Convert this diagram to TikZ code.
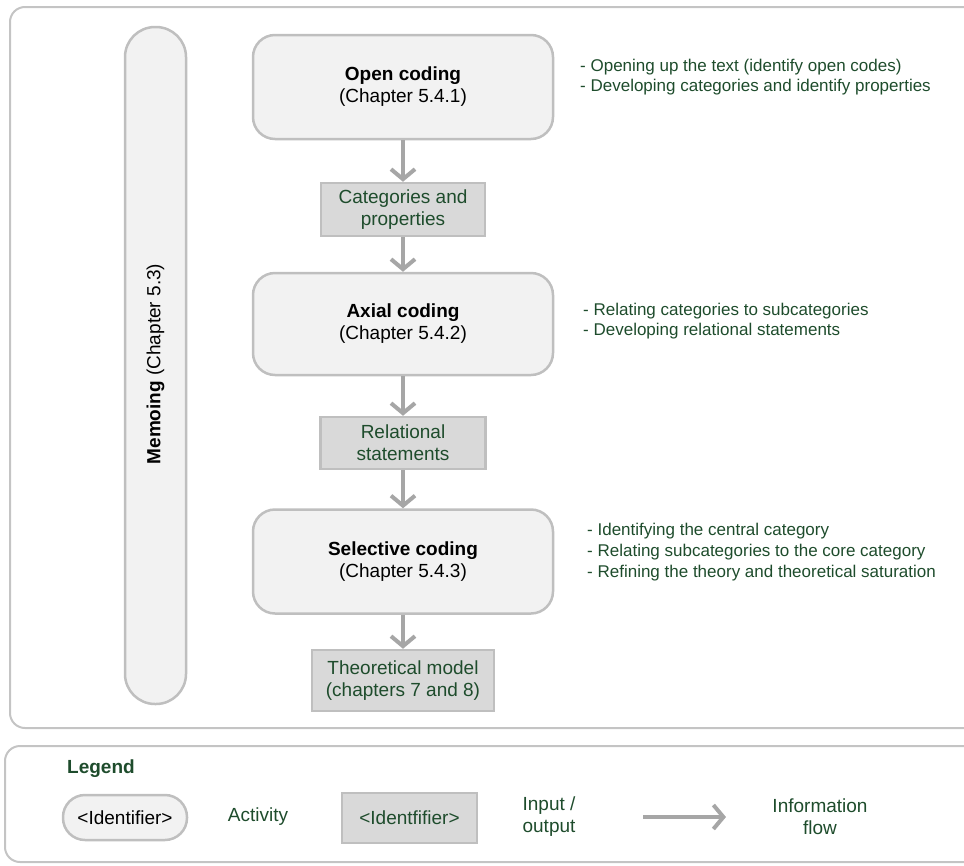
\documentclass[tikz,border=0pt]{standalone}
\usepackage{fontspec}
\setmainfont{Liberation Sans}
\usetikzlibrary{arrows.meta}
\definecolor{framegray}{HTML}{C4C4C4}
\definecolor{boxline}{HTML}{BFBFBF}
\definecolor{actfill}{HTML}{F2F2F2}
\definecolor{iofill}{HTML}{D9D9D9}
\definecolor{flowgray}{HTML}{A6A6A6}
\definecolor{darkgreen}{RGB}{30,76,44}
\tikzset{
  x=1pt, y=-1pt,
  bigfont/.style={font=\fontsize{19}{22}\selectfont},
  notefont/.style={font=\fontsize{17}{20.7}\selectfont},
  frame/.style={draw=framegray, line width=2pt, rounded corners=15pt},
  activity/.style={draw=boxline, fill=actfill, line width=2.5pt, rounded corners=22pt,
    minimum width=300pt, minimum height=104pt, align=center, inner sep=0pt, bigfont},
  iobox/.style={draw=boxline, fill=iofill, line width=2.5pt,
    minimum width=164pt, align=center, inner sep=0pt, bigfont, text=darkgreen},
  note/.style={anchor=west, align=left, inner sep=0pt, notefont, text=darkgreen},
  flow/.style={draw=flowgray, line width=4pt,
    -{Straight Barb[length=10pt, width=24pt, line width=4pt]}},
}
\begin{document}
\begin{tikzpicture}
\useasboundingbox (0,0) rectangle (964,865);

% outer frames (they run past the right edge of the page)
\draw[frame] (10,7) rectangle (1000,728);
\draw[frame] (5,746) rectangle (1000,862);

% memoing bar
\node[draw=boxline, fill=actfill, line width=2.5pt, rounded corners=30pt,
      minimum width=61pt, minimum height=677pt, inner sep=0pt] (memo) at (155.5,365.5) {};
\node[rotate=90, bigfont, inner sep=0pt] (memotxt) at (155.5,364) {\textbf{Memoing} (Chapter 5.3)};

% coding steps and their outputs
\node[activity] (open) at (403,87) {\textbf{Open coding}\\(Chapter 5.4.1)};
\node[iobox, minimum height=53pt] (cat) at (403,209.5) {Categories and\\properties};
\node[activity, minimum height=102pt] (axial) at (403,324) {\textbf{Axial coding}\\(Chapter 5.4.2)};
\node[iobox, minimum width=165pt, minimum height=52pt] (rel) at (403,443) {Relational\\statements};
\node[activity] (sel) at (403,561.5) {\textbf{Selective coding}\\(Chapter 5.4.3)};
\node[iobox, minimum width=182pt, minimum height=61pt] (theo) at (403,680.5) {Theoretical model\\(chapters 7 and 8)};

\draw[flow] (open) -- (cat);
\draw[flow] (cat) -- (axial);
\draw[flow] (axial) -- (rel);
\draw[flow] (rel) -- (sel);
\draw[flow] (sel) -- (theo);

% notes beside each step
\node[note] (nopen) at (580,77) {- Opening up the text (identify open codes)\\- Developing categories and identify properties};
\node[note] (naxial) at (583,321) {- Relating categories to subcategories\\- Developing relational statements};
\node[note] (nsel) at (587,552) {- Identifying the central category\\- Relating subcategories to the core category\\- Refining the theory and theoretical saturation};

% legend
\node[anchor=base west, inner sep=0pt, bigfont, text=darkgreen] (leg) at (67,773) {\textbf{Legend}};
\node[draw=boxline, fill=actfill, line width=2.5pt, rounded corners=22pt,
      minimum width=124pt, minimum height=45pt, inner sep=0pt, bigfont] (lact) at (125,817.5) {<Identifier>};
\node[bigfont, text=darkgreen, inner sep=0pt] (lacttxt) at (258,817) {Activity};
\node[draw=boxline, fill=iofill, line width=2.5pt, minimum width=135pt, minimum height=50pt,
      inner sep=0pt, bigfont, text=darkgreen] (lio) at (409.5,818) {<Identfifier>};
\node[bigfont, text=darkgreen, inner sep=0pt, align=left] (liotxt) at (549,817) {Input /\\output};
\coordinate (la) at (643,817);
\coordinate (lb) at (726,817);
\draw[flow] (la) -- (lb);
\node[bigfont, text=darkgreen, inner sep=0pt, align=center] (lflowtxt) at (820,817) {Information\\flow};
\end{tikzpicture}
\end{document}
